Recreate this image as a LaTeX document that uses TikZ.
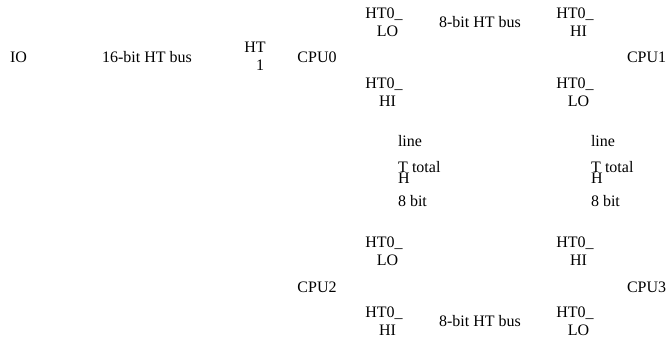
\documentclass[tikz,border=0pt]{standalone}
\usepackage{fontspec}
\setmainfont{Liberation Serif}
% second line of a two-line port label sits a little to the right
\newcommand\portlabel[2]{#1\\\hspace*{5.25pt}#2}
\tikzset{
  lbl/.style={inner sep=0pt, outer sep=0pt, text height=7.94pt, text depth=0pt,
              font=\fontsize{12}{13.8}\selectfont},
  % two-line labels: box runs from the caps of line one to the baseline of line two
  port/.style={lbl, align=center, text height=21.74pt},
  lblw/.style={lbl, anchor=west},
}
\begin{document}
\begin{tikzpicture}[x=0.75pt, y=-0.75pt]
  \useasboundingbox[fill=white] (0,0) rectangle (666,343);

  % IO link to CPU0
  \node[lbl] (io) at (18.5,57) {IO};
  \node[lbl] (bus16) at (147,57) {16-bit HT bus};
  \node[port] (ht1) at (255,56) {HT\\\hspace*{7.5pt}1};
  \node[lbl] (cpu0) at (317,57) {CPU0};

  % top link CPU0 -- CPU1
  \node[port] (p0a) at (384,22.4) {\portlabel{HT0\_}{LO}};
  \node[lbl] (bus8top) at (480,22.4) {8-bit HT bus};
  \node[port] (p1a) at (575,22.4) {\portlabel{HT0\_}{HI}};
  \node[lbl, anchor=west] (cpu1) at (627,57) {CPU1};

  \node[port] (p0b) at (384,92) {\portlabel{HT0\_}{HI}};
  \node[port] (p1b) at (575,92) {\portlabel{HT0\_}{LO}};

  % vertical link descriptions
  \node[lblw] (lineL) at (398,141) {line};
  \node[lblw] (tL) at (398,167.5) {T};
  \node[lblw] (totalL) at (412,167.5) {total};
  \node[lblw] (hL) at (398,178.5) {H};
  \node[lblw] (bitL) at (398,201) {8 bit};

  \node[lblw] (lineR) at (591,141) {line};
  \node[lblw] (tR) at (591,167.5) {T};
  \node[lblw] (totalR) at (605,167.5) {total};
  \node[lblw] (hR) at (591,178.5) {H};
  \node[lblw] (bitR) at (591,201) {8 bit};

  % bottom link CPU2 -- CPU3
  \node[port] (p2a) at (384,251.5) {\portlabel{HT0\_}{LO}};
  \node[port] (p3a) at (575,251.5) {\portlabel{HT0\_}{HI}};
  \node[lbl] (cpu2) at (317,287) {CPU2};
  \node[lbl, anchor=west] (cpu3) at (627,287) {CPU3};

  \node[port] (p2b) at (384,321) {\portlabel{HT0\_}{HI}};
  \node[lbl] (bus8bot) at (480,321) {8-bit HT bus};
  \node[port] (p3b) at (575,321) {\portlabel{HT0\_}{LO}};
\end{tikzpicture}
\end{document}
